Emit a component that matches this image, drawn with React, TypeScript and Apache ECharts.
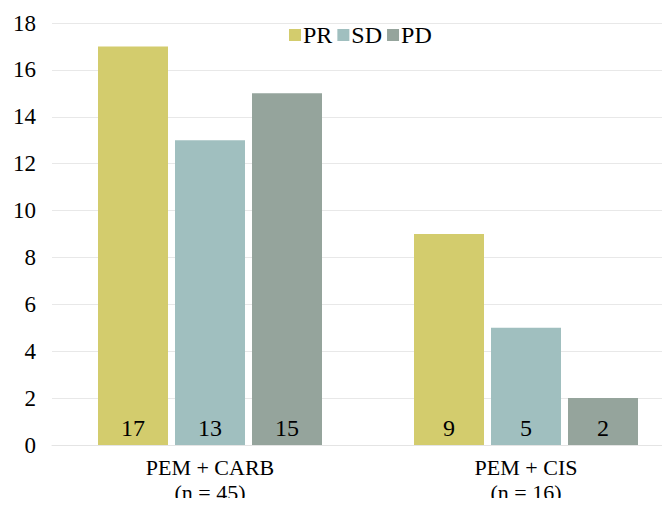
import React, { useEffect, useRef } from "react";
import * as echarts from "echarts";

const categories = ["PEM + CARB\n(n = 45)", "PEM + CIS\n(n = 16)"];
const seriesNames = ["PR", "SD", "PD"];
const prValues = [17, 9];
const sdValues = [13, 5];
const pdValues = [15, 2];
const colors = ["#D3CC6D", "#A0BFBF", "#95A49C"];

const FONT = "Liberation Serif";

export default function App() {
  const ref = useRef<HTMLDivElement>(null);
  useEffect(() => {
    if (!ref.current) return;
    const chart = echarts.init(ref.current, undefined, { renderer: "svg" });
    const values = [prValues, sdValues, pdValues];
    chart.setOption({
      animation: false,
      textStyle: { fontFamily: FONT, fontSize: 22 },
      legend: {
        top: 18,
        left: 284,
        itemWidth: 12,
        itemHeight: 12,
        itemGap: 5,
        icon: "rect",
        textStyle: { fontFamily: FONT, fontSize: 24, color: "#000", padding: [0, 0, 0, -3] },
        data: seriesNames,
      },
      grid: { left: 52, right: 0, top: 23, bottom: 61, containLabel: false },
      xAxis: {
        type: "category",
        data: categories,
        axisLine: { show: true, lineStyle: { color: "#E4E4E4" } },
        axisTick: { show: false },
        axisLabel: {
          fontFamily: FONT,
          fontSize: 22,
          color: "#000",
          margin: 10,
          lineHeight: 25,
        },
      },
      yAxis: {
        type: "value",
        min: 0,
        max: 18,
        interval: 2,
        axisLine: { show: false },
        axisTick: { show: false },
        splitLine: { lineStyle: { color: "#E8E8E8" } },
        axisLabel: { fontFamily: FONT, fontSize: 23, color: "#000", margin: 16 },
      },
      series: seriesNames.map((name, i) => ({
        name,
        type: "bar",
        data: values[i],
        barWidth: 70,
        barGap: "10%",
        itemStyle: { color: colors[i] },
        label: {
          show: true,
          position: "insideBottom",
          distance: 5,
          fontFamily: FONT,
          fontSize: 24,
          color: "#000",
        },
      })),
    });
    return () => chart.dispose();
  }, []);
  return (
    <div style={{ width: 670, height: 506, margin: -8, overflow: "hidden" }}>
      <div ref={ref} style={{ width: 684, height: 506 }} />
    </div>
  );
}
